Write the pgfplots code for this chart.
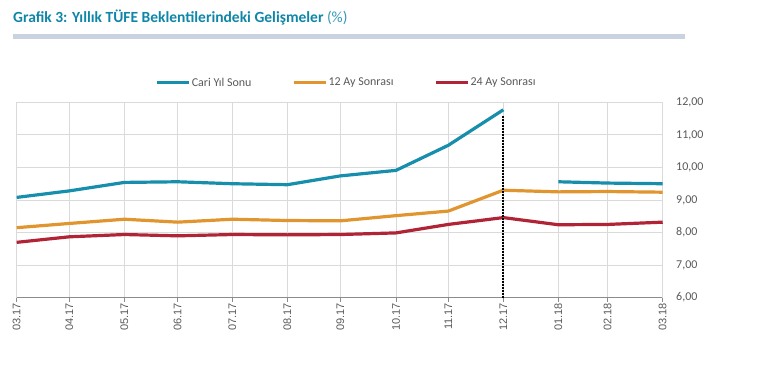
\documentclass[border=0pt]{standalone}
\usepackage{fontspec}
\setmainfont{Carlito}
\newfontfamily\arialf{Liberation Sans}
\usepackage{pgfplots}
\pgfplotsset{compat=1.18}
\definecolor{teal1}{HTML}{168EAC}
\definecolor{orange1}{HTML}{E0952F}
\definecolor{red1}{HTML}{B02436}
\definecolor{titleteal}{HTML}{0F86A8}
\definecolor{barc}{HTML}{C9D3E0}
\definecolor{gridc}{HTML}{DADADA}
\definecolor{txt}{HTML}{595959}

\pgfplotstableread{
x     cari   ay12  ay24
0     9.08   8.15  7.70
52.6  9.28   8.28  7.87
107.6 9.54   8.41  7.94
161   9.56   8.32  7.90
215.6 9.50   8.41  7.94
270.6 9.47   8.37  7.93
323.6 9.74   8.36  7.94
379.3 9.91   8.52  7.99
431.6 10.68  8.66  8.25
486.6 11.77  9.30  8.46
}\dataA
\pgfplotstableread{
x     cari   ay12  ay24
486.6 nan    9.30  8.46
541.6 9.56   9.25  8.24
591   9.52   9.26  8.25
646   9.50   9.24  8.32
}\dataB

\begin{document}
\begin{tikzpicture}
\path[use as bounding box] (0pt,0pt) rectangle (773pt,368pt);
\node[anchor=base west, inner sep=0, font=\fontsize{15.5}{17}\selectfont\bfseries, text=titleteal] at (13pt,345.5pt) {Grafik 3: Yıllık TÜFE Beklentilerindeki Gelişmeler {\mdseries\color{titleteal!85}(\%)}};
\fill[barc] (13pt,329.5pt) rectangle (685pt,334.5pt);
\begin{axis}[
  at={(16.7pt,70.3pt)}, anchor=south west,
  scale only axis, width=646pt, height=195.4pt,
  xmin=0, xmax=646, ymin=6, ymax=12,
  axis x line=bottom, axis y line=right,
  x axis line style={-, draw=black!45, line width=0.9pt},
  y axis line style={-, draw=gridc, line width=0.9pt},
  grid=major, major grid style={draw=gridc, line width=0.9pt},
  xtick={0,52.6,107.6,161,215.6,270.6,323.6,379.3,431.6,486.6,541.6,591,646},
  xticklabels={03.17,04.17,05.17,06.17,07.17,08.17,09.17,10.17,11.17,12.17,01.18,02.18,03.18},
  xticklabel style={rotate=90, anchor=east, font=\arialf\fontsize{11}{12}\selectfont, text=txt, inner sep=1pt},
  xtick style={draw=black!45, line width=0.8pt},
  tick align=outside, major tick length=4pt,
  ytick={6,7,8,9,10,11,12},
  ytick style={draw=none},
  yticklabel style={font=\fontsize{12}{14}\selectfont, text=txt, anchor=west, xshift=6pt},
  /pgf/number format/.cd, fixed, fixed zerofill, precision=2, use comma, assume math mode=true,
  /pgfplots/.cd,
  legend columns=3,
  legend style={at={(0.51,1.10)}, anchor=center, draw=none, fill=none, font=\fontsize{12}{14}\selectfont, text=txt,
    nodes={inner sep=1pt},
    /tikz/every even column/.append style={column sep=40pt}},
  legend image code/.code={\draw[#1, line width=3pt] (0pt,0pt) -- (32pt,0pt);},
  clip=false,
]
\addplot[teal1, line width=3.2pt] table[x=x, y=cari] {\dataA};
\addlegendentry{Cari Yıl Sonu}
\addplot[orange1, line width=3.2pt] table[x=x, y=ay12] {\dataA};
\addlegendentry{12 Ay Sonrası}
\addplot[red1, line width=3.2pt] table[x=x, y=ay24] {\dataA};
\addlegendentry{24 Ay Sonrası}
\addplot[teal1, line width=3.2pt, forget plot, unbounded coords=discard] table[x=x, y=cari] {\dataB};
\addplot[orange1, line width=3.2pt, forget plot] table[x=x, y=ay12] {\dataB};
\addplot[red1, line width=3.2pt, forget plot] table[x=x, y=ay24] {\dataB};
\addplot[black, line width=2pt, dash pattern=on 1.5pt off 1.5pt, forget plot] coordinates {(486.6,6) (486.6,11.57)};
\end{axis}
\end{tikzpicture}
\end{document}
